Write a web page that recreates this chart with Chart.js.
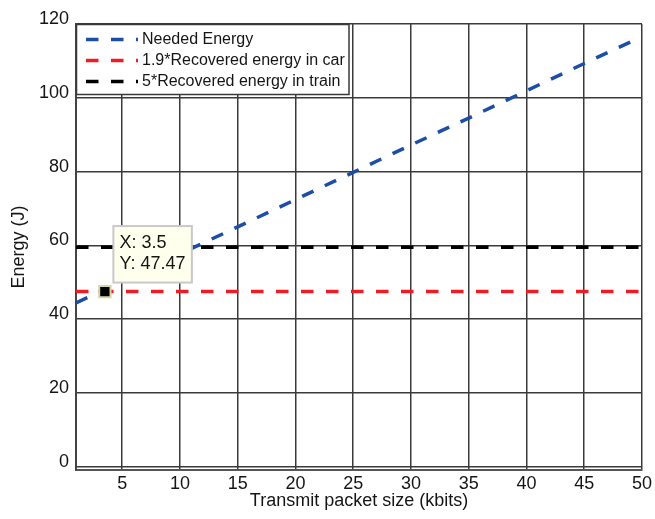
<!DOCTYPE html>
<html>
<head>
<meta charset="utf-8">
<title>Energy vs packet size</title>
<script src="https://cdn.jsdelivr.net/npm/chart.js@4.4.1/dist/chart.umd.min.js"></script>
<style>
  html, body { margin: 0; padding: 0; background: #fff; }
  #wrap { width: 655px; height: 519px; }
</style>
</head>
<body>
<div id="wrap"><canvas id="energyChart" width="655" height="519"></canvas></div>
<script>
/* ── Data ───────────────────────────────────────────────────────────────── */
const packetSizes  = [1, 5, 10, 15, 20, 25, 30, 35, 40, 45, 50];
const neededEnergy = [44.4, 50.3, 57.7, 65.0, 72.4, 79.8, 87.2, 94.5, 101.9, 109.3, 116.6];
const flatRange    = [1, 50];
const carEnergy    = [47.47, 47.47];
const trainEnergy  = [59.5, 59.5];
const tipPoint     = { x: 3.5, y: 47.47 };

const xTicks = [5, 10, 15, 20, 25, 30, 35, 40, 45, 50];
const yTicks = [0, 20, 40, 60, 80, 100, 120];

const FONT = '"Liberation Sans", Arial, Helvetica, sans-serif';
const TEXT = "#151515";

const toPoints = (xs, ys) => xs.map((x, i) => ({ x, y: ys[i] }));

/* ── Legend box drawn inside the plot, MATLAB style ─────────────────────── */
const boxLegend = {
  id: "boxLegend",
  afterDraw(chart) {
    const { ctx, chartArea } = chart;
    const items = chart.data.datasets.filter((d) => !d.noLegend);
    const left = chartArea.left;
    const top = chartArea.top;
    const rowH = 21;

    ctx.save();
    ctx.fillStyle = "#fff";
    ctx.fillRect(left, top, 273, 70);
    ctx.strokeStyle = "#3a3a3a";
    ctx.lineWidth = 1.5;
    ctx.strokeRect(left + 0.5, top + 0.5, 272.5, 70);

    items.forEach((ds, i) => {
      const y = top + 15.5 + i * rowH;
      ctx.beginPath();
      ctx.setLineDash([12.5, 12.5]);
      ctx.lineWidth = 3.5;
      ctx.strokeStyle = ds.borderColor;
      ctx.moveTo(left + 10, y);
      ctx.lineTo(left + 62, y);
      ctx.stroke();
      ctx.setLineDash([]);

      ctx.fillStyle = TEXT;
      ctx.font = "16px " + FONT;
      ctx.textBaseline = "middle";
      ctx.textAlign = "left";
      ctx.fillText(ds.label, left + 66, y);
    });
    ctx.restore();
  }
};

/* ── Data tip next to the marked point ──────────────────────────────────── */
const dataTipBox = {
  id: "dataTipBox",
  afterDraw(chart) {
    const idx = chart.data.datasets.findIndex((d) => d.isTip);
    const pt = chart.getDatasetMeta(idx).data[0];
    if (!pt) return;
    const { ctx } = chart;
    const w = 78.5, h = 56.5;
    const x0 = pt.x + 8.5;
    const y0 = pt.y - 9 - h;

    ctx.save();
    ctx.fillStyle = "#ffffee";
    ctx.fillRect(x0, y0, w, h);
    ctx.strokeStyle = "#c9c9c9";
    ctx.lineWidth = 2;
    ctx.strokeRect(x0, y0, w, h);

    ctx.fillStyle = TEXT;
    ctx.font = "18px " + FONT;
    ctx.textBaseline = "middle";
    ctx.textAlign = "left";
    ctx.fillText("X: " + tipPoint.x, x0 + 6, y0 + 16.7);
    ctx.fillText("Y: " + tipPoint.y.toFixed(2), x0 + 6, y0 + 38.3);
    ctx.restore();
  }
};

/* ── Chart ──────────────────────────────────────────────────────────────── */
const dashed = {
  borderWidth: 3.5,
  borderDash: [12.5, 12.5],
  borderCapStyle: "butt",
  pointRadius: 0,
  pointHoverRadius: 0,
  tension: 0,
  fill: false
};

new Chart(document.getElementById("energyChart"), {
  type: "line",
  data: {
    datasets: [
      {
        label: "tip",
        isTip: true,
        noLegend: true,
        data: [tipPoint],
        showLine: false,
        pointStyle: "rect",
        pointRadius: 8,
        pointBackgroundColor: "#000",
        pointBorderColor: "#d9d2a6",
        pointBorderWidth: 2,
        order: -1
      },
      {
        ...dashed,
        label: "Needed Energy",
        data: toPoints(packetSizes, neededEnergy),
        borderColor: "#1d4ea6"
      },
      {
        ...dashed,
        label: "1.9*Recovered energy in car",
        data: toPoints(flatRange, carEnergy),
        borderColor: "#ee1c25"
      },
      {
        ...dashed,
        label: "5*Recovered energy in train",
        data: toPoints(flatRange, trainEnergy),
        borderColor: "#000000"
      }
    ]
  },
  options: {
    responsive: false,
    animation: false,
    devicePixelRatio: 1,
    layout: { padding: { top: 24, right: 11, bottom: 0, left: 0 } },
    plugins: {
      legend: { display: false },
      tooltip: { enabled: false }
    },
    events: [],
    scales: {
      x: {
        type: "linear",
        min: 1,
        max: 50,
        afterBuildTicks: (axis) => { axis.ticks = xTicks.map((v) => ({ value: v })); },
        afterFit: (s) => { s.height = 49; },
        grid: { color: "#3a3a3a", lineWidth: 1.5, drawTicks: false },
        border: { color: "#555", width: 2 },
        ticks: {
          autoSkip: false,
          maxRotation: 0,
          padding: 3,
          color: TEXT,
          font: { family: FONT, size: 18 },
          callback: (v) => String(v)
        },
        title: {
          display: true,
          text: "Transmit packet size (kbits)",
          color: TEXT,
          font: { family: FONT, size: 18 },
          padding: { top: 0, bottom: 7 }
        }
      },
      y: {
        type: "linear",
        min: -0.9,
        max: 120,
        afterBuildTicks: (axis) => { axis.ticks = yTicks.map((v) => ({ value: v })); },
        afterFit: (s) => { s.width = 76; },
        grid: { color: "#3a3a3a", lineWidth: 1.5, drawTicks: false },
        border: { color: "#444", width: 2 },
        ticks: {
          autoSkip: false,
          padding: 7,
          labelOffset: -5,
          color: TEXT,
          font: { family: FONT, size: 18 },
          callback: (v) => String(v)
        },
        title: {
          display: true,
          text: "Energy (J)",
          color: TEXT,
          font: { family: FONT, size: 18 },
          padding: { top: 8, bottom: 0 }
        }
      }
    }
  },
  plugins: [boxLegend, dataTipBox]
});
</script>
</body>
</html>
